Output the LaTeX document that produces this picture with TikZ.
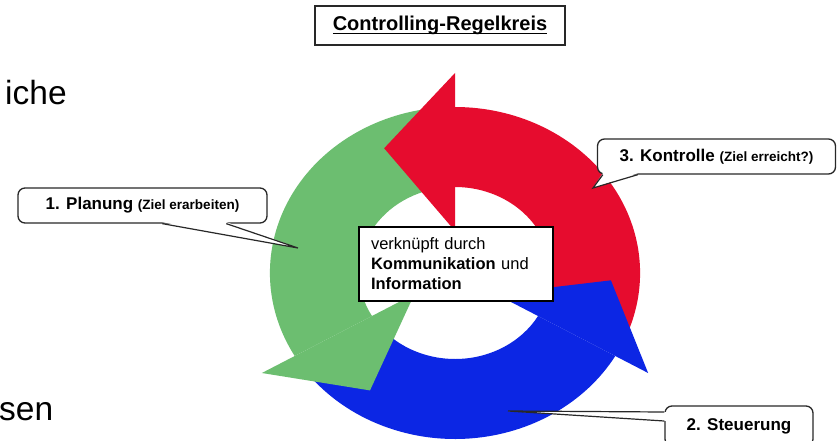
\documentclass[tikz,border=0pt]{standalone}
\usepackage{fontspec}
\setmainfont{Liberation Sans}
\usetikzlibrary{calc}
\definecolor{rgreen}{RGB}{108,190,112}
\definecolor{rred}{RGB}{230,12,46}
\definecolor{rblue}{RGB}{12,38,228}
\definecolor{cline}{RGB}{40,40,40}
\newcommand\myul[1]{\setbox0\hbox{#1}\rlap{\rule[-3.6pt]{\wd0}{1.2pt}}\box0}
\begin{document}
\begin{tikzpicture}[x=1pt,y=-1pt,
  callout/.style={draw=cline, line width=1.3pt, fill=white, rounded corners=7pt,
    font=\bfseries\fontsize{17}{20}\selectfont, inner sep=0pt},
  ptr/.style={draw=cline, line width=1.2pt, line join=miter},
  sidetext/.style={anchor=base west, inner sep=0pt, font=\fontsize{33.5}{38}\selectfont}]
\useasboundingbox (0,0) rectangle (837,441);
\fill[white] (0,0) rectangle (837,441);

% fragments of slide text
\node[sidetext] (t1) at (5,105) {iche};
\node[sidetext] (t2) at (-1,420) {sen};

% title
\node[draw=cline, line width=1.5pt, minimum width=250, minimum height=39,
  font=\bfseries\fontsize{20}{24}\selectfont, inner sep=0pt] (title) at (440,25.5)
  {\myul{Controlling-Regelkreis}};

% ring
\begin{scope}[shift={(455,273)}, xscale=1.115, yscale=-1]
  \def\R{166}\def\r{86}
  % bodies
  \fill[rgreen] (95:\R) arc[start angle=95,end angle=210,radius=\R] -- (210:\r) arc[start angle=210,end angle=95,radius=\r] -- cycle;
  \fill[rblue] (215:\R) arc[start angle=215,end angle=330,radius=\R] -- (330:\r) arc[start angle=330,end angle=215,radius=\r] -- cycle;
  \fill[rred] (-25:\R) arc[start angle=-25,end angle=90,radius=\R] -- (90:\r) arc[start angle=90,end angle=-25,radius=\r] -- cycle;
  % heads
  \fill[rred] (90:200) -- (117:140) -- (90:42) -- cycle;
  \fill[rgreen] (210:200) -- (237:140) -- (210:42) -- cycle;
  \fill[rblue] (330:200) -- (357:140) -- (330:42) -- cycle;
\end{scope}

% centre box
\node[draw=black, line width=1.2pt, fill=white, minimum width=194, minimum height=74,
  text width=170, align=left, inner sep=0pt, font=\fontsize{16.5}{20}\selectfont] (mid) at (456,264)
  {verknüpft durch\\\textbf{Kommunikation} und\\\textbf{Information}};

% callout 1
\node[callout, minimum width=249, minimum height=35] (plan) at (142.5,205.5)
  {1. Planung {\bfseries\fontsize{13.5}{16}\selectfont (Ziel erarbeiten)}};
\coordinate (plantip) at (298,248);
\coordinate (planA) at ($(plan.south west)+(145,0)$);
\coordinate (planB) at ($(plan.south west)+(209,0)$);
\fill[white] ($(planA)+(0,-1.5)$) -- (plantip) -- ($(planB)+(0,-1.5)$) -- cycle;
\draw[ptr] (planA) -- (plantip) -- (planB);

% callout 3
\node[callout, minimum width=238, minimum height=35] (kon) at (716.5,156.5)
  {3. Kontrolle {\bfseries\fontsize{13.5}{16}\selectfont (Ziel erreicht?)}};
\coordinate (kontip) at (593,188);
\coordinate (konA) at ($(kon.south west)+(6,0)$);
\coordinate (konB) at ($(kon.south west)+(41,0)$);
\fill[white] ($(konA)+(0,-1.5)$) -- (kontip) -- ($(konB)+(0,-1.5)$) -- cycle;
\draw[ptr] (konA) -- (kontip) -- (konB);

% callout 2
\node[callout, minimum width=148, minimum height=40] (steu) at (739,426) {2. Steuerung};
\coordinate (steutip) at (508,411);
\coordinate (steuA) at ($(steu.west)+(0,-14)$);
\coordinate (steuB) at ($(steu.west)+(0,-5)$);
\fill[white] ($(steuA)+(1.5,0)$) -- (steutip) -- ($(steuB)+(1.5,0)$) -- cycle;
\draw[ptr] (steuA) -- (steutip) -- (steuB);
\end{tikzpicture}
\end{document}
